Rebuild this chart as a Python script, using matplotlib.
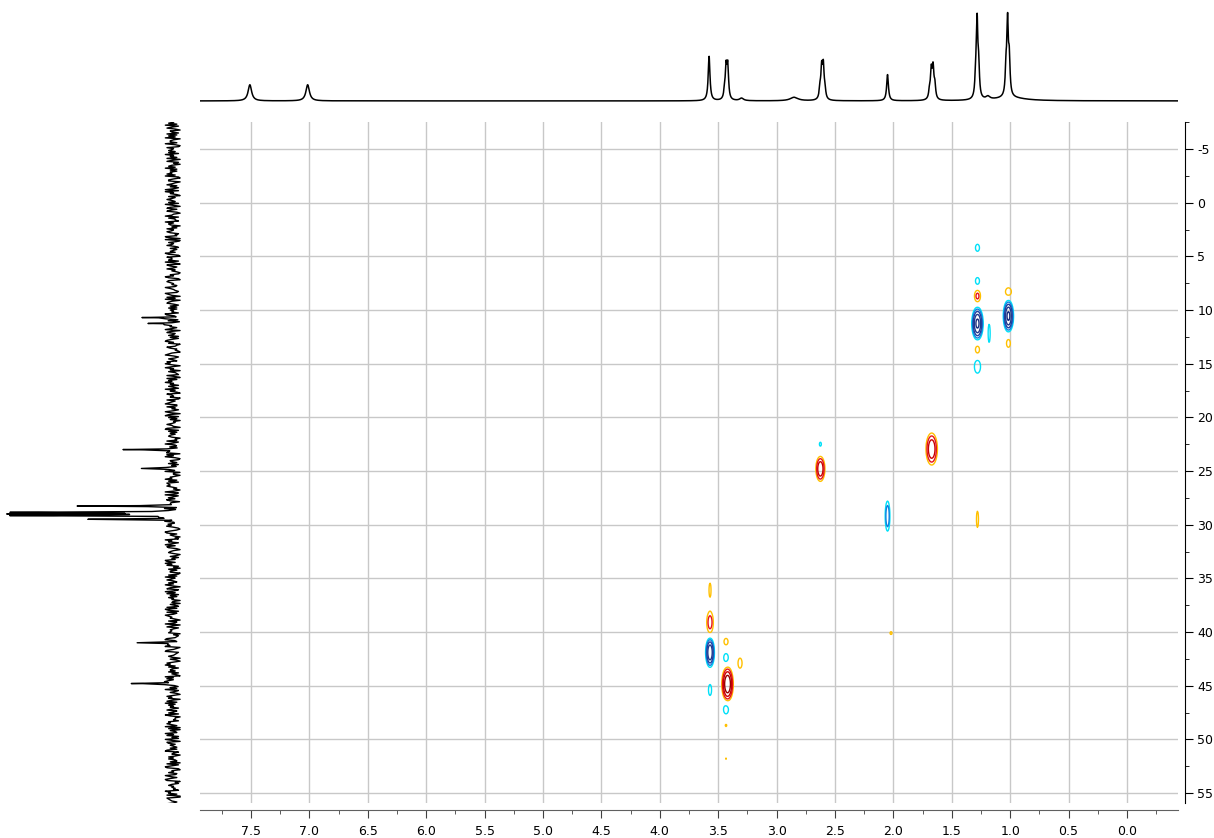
"""
Phase-edited HSQC spectrum with 1H and 13C projections.
"""

import numpy as np
import matplotlib
matplotlib.use('Agg')
import matplotlib.pyplot as plt
from matplotlib.ticker import MultipleLocator

plt.rcParams['font.family'] = ['DejaVu Sans']
plt.rcParams['axes.unicode_minus'] = False

# 1H projection peaks: shift (ppm), height, half width (ppm)
h_shift = [7.51, 7.015, 3.578, 3.445, 3.432, 3.418, 3.30, 2.85,
           2.628, 2.614, 2.600, 2.586, 2.05,
           1.690, 1.675, 1.660, 1.645, 1.295, 1.283, 1.270, 1.19,
           1.035, 1.022, 1.008, 1.00]
h_height = [16, 16, 44, 8, 30, 32, 2.5, 3.5,
            10, 29, 31, 8, 26,
            9, 27, 29, 13, 22, 71, 30, 3,
            28, 68, 36, 3]
h_width = [0.018, 0.018, 0.009, 0.008, 0.008, 0.008, 0.02, 0.04,
           0.008, 0.008, 0.008, 0.008, 0.009,
           0.008, 0.008, 0.008, 0.008, 0.008, 0.007, 0.008, 0.02,
           0.008, 0.007, 0.008, 0.15]

# 13C projection peaks: shift (ppm), height
c_shift = [10.7, 11.25, 23.0, 24.75, 28.26, 28.85, 29.0, 29.15, 29.5, 41.0, 44.8]
c_height = [17.8, 14.3, 28.8, 17.2, 55, 91, 91, 91, 46, 20.6, 24]

# 13C projection baseline noise, read as digits (0..9)
c_noise = (
    "4729158306518273904662930184573719462805814057392626583910477035826149"
    "1946207358537194068268204591733194760528458613297090274583162463971085"
    "5719308624835201649710786452396431297508390578416272645198304817032956"
    "2590683471615894702386231057941374286950594607321830827594617419362085"
    "4601835792283514960791726043585408917263675032814932614957808493016527"
    "1527863904403659271876852403912914738605536908147260429571833758410269"
    "8264031957159387204674026153983958140726601729358427495068139381627450"
    "4506318297182497563072390581465670412389318576902489123475062048693715"
    "6371520948479508316291362048570582937461582471960334176852907063294815"
    "1950873642628914503747326081598105472396269803157453419672800876524913"
)

# HSQC cross peaks: 1H (ppm), 13C (ppm), amplitude (sign = phase), sigma 1H, sigma 13C
xp_h = [1.28, 1.015, 3.570, 3.420, 2.625, 1.672, 2.05,
        1.28, 1.28, 1.28, 1.28, 1.28, 1.18, 1.015, 1.015, 2.625, 1.28, 2.02,
        3.570, 3.570, 3.570, 3.433, 3.433, 3.313, 3.433, 3.433, 3.433]
xp_c = [11.26, 10.56, 41.9, 44.85, 24.8, 22.95, 29.2,
        4.2, 7.3, 8.7, 13.7, 15.27, 12.17, 8.3, 13.1, 22.5, 29.5, 40.1,
        36.1, 39.1, 45.4, 40.9, 42.4, 42.9, 47.2, 48.7, 51.8]
xp_amp = [-20, -20, -16, 16, 8, 8, -4,
          -1.5, -1.5, 2.5, 1.5, -1.8, -1.4, 1.6, 1.4, -1.2, 1.3, 1.1,
          1.3, 3, -1.4, 1.4, -1.5, 1.4, -1.5, 1.1, 1.05]
xp_sh = [0.020, 0.018, 0.016, 0.021, 0.019, 0.024, 0.012,
         0.019, 0.019, 0.019, 0.02, 0.024, 0.0105, 0.026, 0.02, 0.014, 0.012, 0.02,
         0.012, 0.019, 0.016, 0.021, 0.022, 0.021, 0.024, 0.015, 0.012]
xp_sc = [0.63, 0.61, 0.59, 0.69, 0.57, 0.73, 0.84,
         0.36, 0.36, 0.41, 0.40, 0.56, 1.03, 0.38, 0.45, 0.31, 1.04, 0.30,
         0.90, 0.67, 0.62, 0.37, 0.44, 0.57, 0.47, 0.25, 0.2]

levels = [1, 2, 4, 8, 16]
pos_colors = ['#FFC000', '#E8141A', '#C80000', '#9B0000', '#7A0000']
neg_colors = ['#00E0F8', '#1080E0', '#2040A0', '#203A8F', '#1A2F80']

xlim = (7.937, -0.437)
ylim = (55.93, -7.52)


def lorentz(x, x0, h, w):
    return h / (1 + ((x - x0) / w) ** 2)


W, H = 1214, 838
fig = plt.figure(figsize=(W / 100, H / 100), dpi=100)

ax = fig.add_axes([200 / W, 1 - 803 / H, 978 / W, 681 / H])
ax_top = fig.add_axes([200 / W, 1 - 110 / H, 978 / W, 110 / H])
ax_left = fig.add_axes([0, 1 - 803 / H, 190 / W, 681 / H])

# 2D contours
gx = np.linspace(xlim[1], xlim[0], 1600)
gy = np.linspace(ylim[1], ylim[0], 900)
X, Y = np.meshgrid(gx, gy)
Z = np.zeros_like(X)
for h0, c0, a, sh, sc in zip(xp_h, xp_c, xp_amp, xp_sh, xp_sc):
    Z += a * np.exp(-0.5 * ((X - h0) / sh) ** 2 - 0.5 * ((Y - c0) / sc) ** 2)

ax.contour(X, Y, Z, levels=levels, colors=pos_colors, linewidths=1.0)
ax.contour(X, Y, -Z, levels=levels, colors=neg_colors, linewidths=1.0)

ax.set_xlim(*xlim)
ax.set_ylim(*ylim)
ax.xaxis.set_major_locator(MultipleLocator(0.5))
ax.xaxis.set_minor_locator(MultipleLocator(0.25))
ax.yaxis.set_major_locator(MultipleLocator(5))
ax.yaxis.set_minor_locator(MultipleLocator(2.5))
ax.xaxis.set_major_formatter(plt.FormatStrFormatter('%.1f'))
ax.grid(True, which='major', color='#c8c8c8', linewidth=1)
ax.set_axisbelow(True)

ax.yaxis.tick_right()
for s in ['top', 'left']:
    ax.spines[s].set_visible(False)
ax.spines['right'].set_position(('outward', 5))
ax.spines['bottom'].set_position(('outward', 5))
ax.spines['bottom'].set_color('#606060')
ax.tick_params(axis='x', which='major', length=6, color='#404040', labelsize=9, pad=5)
ax.tick_params(axis='x', which='minor', length=3, color='#404040')
ax.tick_params(axis='y', which='major', length=6, labelsize=9, pad=3)
ax.tick_params(axis='y', which='minor', length=3)

# 1H projection
hx = np.linspace(xlim[1], xlim[0], 6000)
hy = np.zeros_like(hx)
for x0, h, w in zip(h_shift, h_height, h_width):
    hy += lorentz(hx, x0, h, w)
ax_top.plot(hx, hy, color='black', lw=1.1)
ax_top.set_xlim(*xlim)
ax_top.set_ylim(-9, 100)
ax_top.axis('off')

# 13C projection
noise = (np.array([int(d) for d in c_noise]) - 4.5) * 0.95
cg = np.linspace(-7.5, 56.2, len(noise))
cx = np.concatenate([cg, c_shift])
cv = np.concatenate([noise, np.zeros(len(c_shift))])
order = np.argsort(cx)
cx, cv = cx[order], cv[order]
for x0, h in zip(c_shift, c_height):
    cv = cv + lorentz(cx, x0, h, 0.025)
ax_left.plot(cv, cx, color='black', lw=1.0)
ax_left.set_xlim(100, -10)
ax_left.set_ylim(*ylim)
ax_left.axis('off')

fig.savefig('out.png', dpi=100)
